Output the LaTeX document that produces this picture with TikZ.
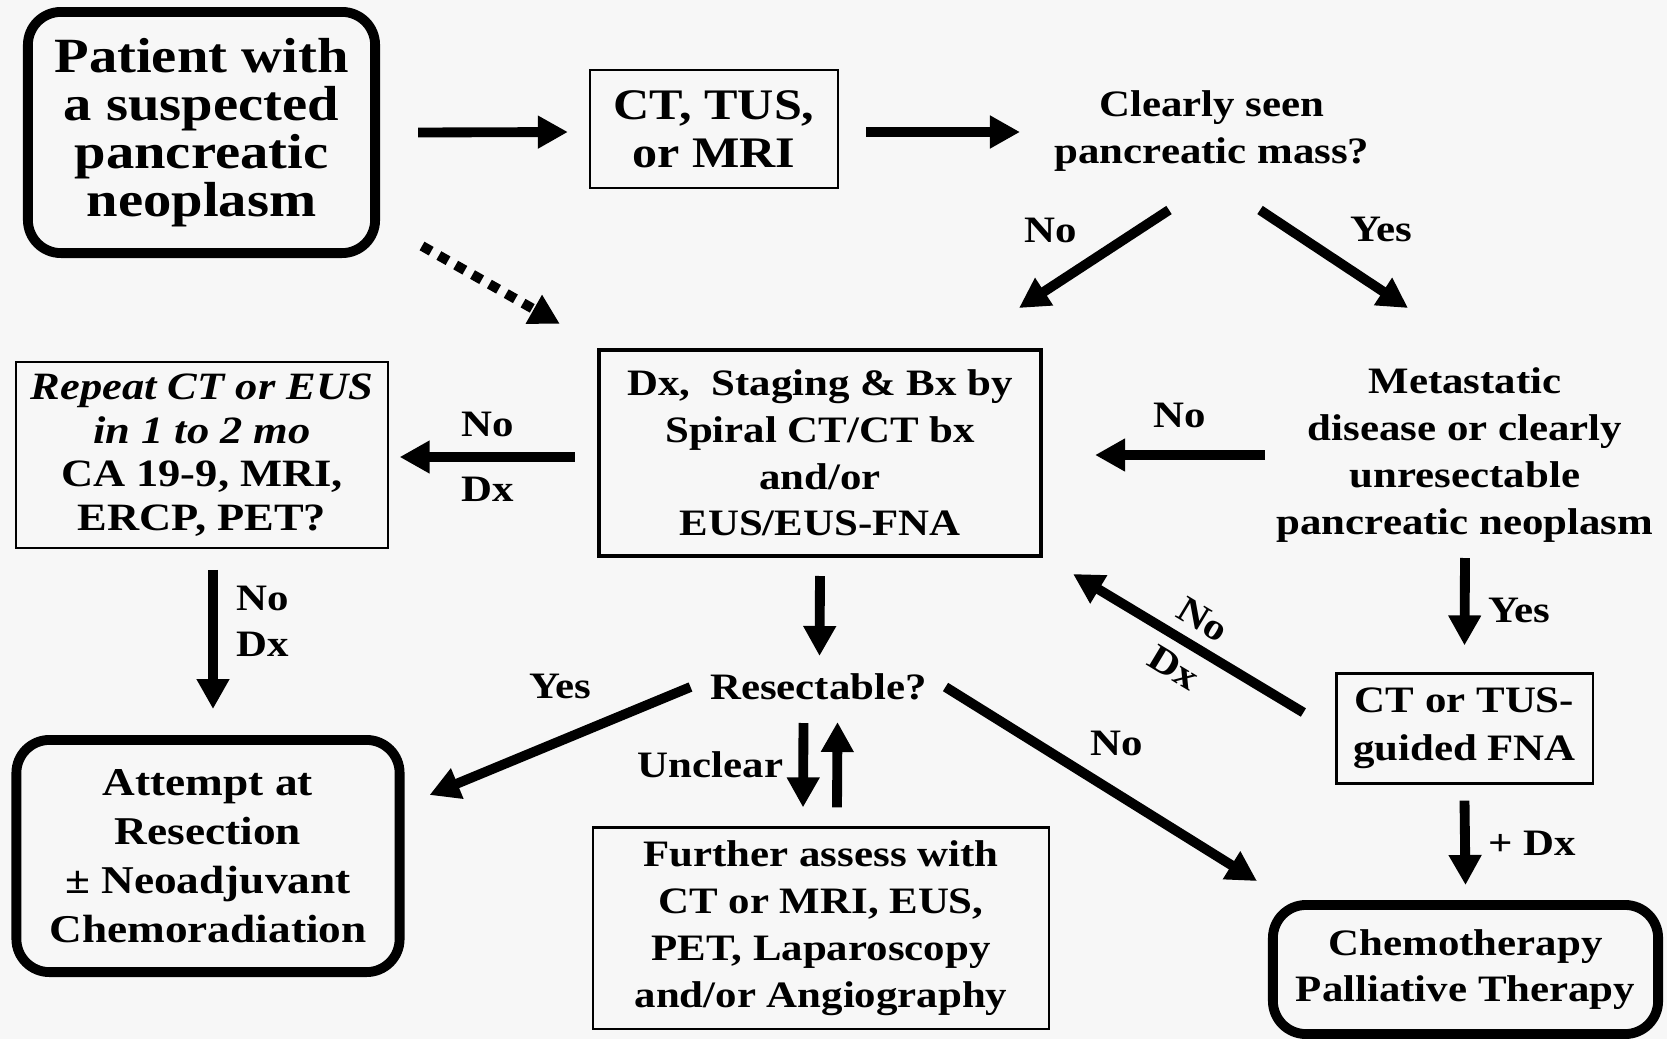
\documentclass[tikz,border=0pt]{standalone}
\usepackage{fontspec}
\setmainfont{Liberation Serif}[FakeStretch=1.15]
\usetikzlibrary{arrows.meta,calc}
\definecolor{bgcol}{HTML}{F7F7F7}
\newcommand{\fsz}[2]{\fontsize{#1}{#2}\selectfont\lineskiplimit=-20pt\relax}
\tikzset{
    every node/.style={font=\bfseries\fsz{10.6}{13.3}, align=center},
    arr/.style={line width=2.8pt, -{Triangle[length=0.30cm, width=0.31cm]}},
    dotarr/.style={arr, dash pattern=on 3pt off 2.5pt},
    thinbox/.style={draw, line width=0.6pt},
    midbox/.style={draw, line width=1.1pt},
    roundbox/.style={draw, line width=2.8pt, rounded corners=0.33cm},
}
\begin{document}
\begin{tikzpicture}[x=0.01cm, y=-0.01cm]
    \useasboundingbox (0,0) rectangle (1667,1039);
    \fill[bgcol] (0,0) rectangle (1667,1039);

    \node[roundbox, minimum width=3.47cm, minimum height=2.41cm, font=\bfseries\fsz{14}{13.7}] (patient) at (201.5,132.5) {Patient with\\a suspected\\pancreatic\\neoplasm};
    \node[thinbox, minimum width=2.48cm, minimum height=1.18cm, font=\bfseries\fsz{12.4}{13.6}] (ctus) at (714,129) {CT, TUS,\\or MRI};
    \node (seen) at (1212,131) {Clearly seen\\pancreatic mass?};
    \node[midbox, minimum width=4.42cm, minimum height=2.06cm] (stage) at (820,453) {Dx,~ Staging \& Bx by\\Spiral CT/CT bx\\and/or\\EUS/EUS-FNA};
    \node[thinbox, minimum width=3.71cm, minimum height=1.80cm, font=\bfseries\fsz{11}{12.4}] (repeat) at (202,455) {\textit{Repeat CT or EUS}\\\textit{in 1 to 2 mo}\\CA 19-9, MRI,\\ERCP, PET?};
    \node (meta) at (1465,455) {Metastatic\\disease or clearly\\unresectable\\pancreatic neoplasm};
    \node[thinbox, minimum width=2.56cm, minimum height=1.10cm, font=\bfseries\fsz{10.6}{13.6}] (fna) at (1464.5,728.5) {CT or TUS-\\guided FNA};
    \node (resect) at (818.5,687) {Resectable?};
    \node[roundbox, minimum width=3.83cm, minimum height=2.32cm, font=\bfseries\fsz{11.2}{13.9}] (attempt) at (208,856) {Attempt at\\Resection\\± Neoadjuvant\\Chemoradiation};
    \node[thinbox, minimum width=4.55cm, minimum height=2.01cm, font=\bfseries\fsz{10.6}{13.4}] (further) at (821,928) {Further assess with\\CT or MRI, EUS,\\PET, Laparoscopy\\and/or Angiography};
    \node[roundbox, minimum width=3.85cm, minimum height=1.29cm, font=\bfseries\fsz{10.6}{13.1}] (chemo) at (1465.5,969.5) {Chemotherapy\\Palliative Therapy};

    % top row
    \draw[arr] ($(patient.east)+(38,0)$) -- ($(ctus.west)+(-21,3)$);
    \draw[arr] ($(ctus.east)+(27,3)$) -- ($(seen)+(-192,1)$);
    \draw[dotarr] ($(patient.south east)+(42,-12)$) -- ($(stage.north west)+(-37,-24)$);
    \draw[arr] ($(seen)+(-43,79)$) -- node[above left] {No} ($(stage.north)+(199,-40)$);
    \draw[arr] ($(seen)+(48,79)$) -- node[above right] {Yes} ($(meta)+(-57,-147)$);

    % middle row
    \draw[arr] ($(stage.west)+(-22,4)$) -- node[above=1pt] {No} node[below=1pt] {Dx} ($(repeat.east)+(11,2)$);
    \draw[arr] ($(meta)+(-200,0)$) -- node[above=3pt] {No} ($(stage.east)+(52,2)$);
    \draw[arr] ($(meta)+(0,103)$) -- node[pos=0.6, right=2pt] {Yes} ($(fna.north)+(0,-27)$);
    \draw[arr] ($(fna.west)+(-32,-16)$) -- node[sloped, inner sep=1pt, font=\bfseries\fsz{10.6}{16}] {No\\Dx} ($(stage.south east)+(30,16)$);
    \draw[arr] ($(repeat.south)+(11,21)$) -- node[pos=0.37, right=2pt, align=left] {No\\Dx} ($(attempt.north)+(5,-26)$);

    % lower part
    \draw[arr] ($(stage.south)+(0,18)$) -- ($(resect)+(1,-31)$);
    \draw[arr] ($(resect)+(-128,0)$) -- node[above=0.25cm] {Yes} ($(attempt.east)+(25,-61)$);
    \draw[arr] ($(resect)+(127,0)$) -- node[pos=0.55, above=0.21cm] {No} ($(chemo.north west)+(-11,-19)$);
    \draw[arr] ($(resect)+(-15,36)$) -- node[left=1pt] {Unclear} ($(further.north)+(-18,-19)$);
    \draw[arr] ($(further.north)+(16,-19)$) -- ($(resect)+(19,35)$);
    \draw[arr] ($(fna.south)+(0,16)$) -- node[right=2pt] {+ Dx} ($(chemo.north)+(0,-15)$);

\end{tikzpicture}
\end{document}
